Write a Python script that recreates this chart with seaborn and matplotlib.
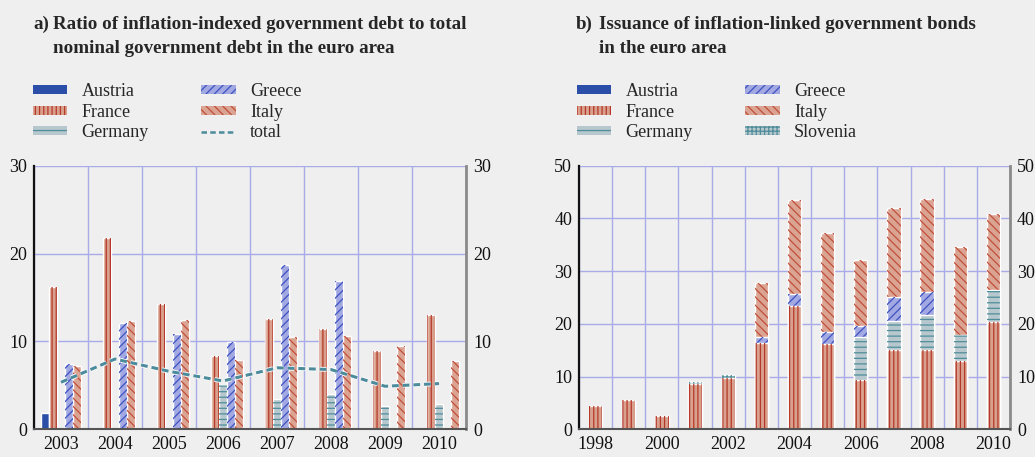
import numpy as np
import pandas as pd
import matplotlib
matplotlib.use("Agg")
import matplotlib.pyplot as plt
import matplotlib.patheffects as pe
import seaborn as sns
from matplotlib.patches import Patch
from matplotlib.lines import Line2D

# ---------------- data ----------------
countries_a = ["Austria", "France", "Germany", "Greece", "Italy"]
years_a = ["2003", "2004", "2005", "2006", "2007", "2008", "2009", "2010"]
austria_a = [1.8, 0, 0, 0, 0, 0, 0, 0]
france_a = [16.2, 21.8, 14.3, 8.35, 12.5, 11.4, 8.9, 13.0]
germany_a = [0, 0, 0, 5.0, 3.5, 4.05, 2.65, 2.9]
greece_a = [7.4, 12.1, 10.9, 9.9, 18.7, 16.9, 0, 0]
italy_a = [7.25, 12.35, 12.4, 7.9, 10.5, 10.65, 9.5, 7.8]
total_a = [5.35, 8.0, 6.6, 5.5, 7.0, 6.8, 4.9, 5.2]

years_b = ["1998", "1999", "2000", "2001", "2002", "2003", "2004",
           "2005", "2006", "2007", "2008", "2009", "2010"]
france_b = [4.4, 5.6, 2.5, 8.65, 9.8, 16.4, 23.4, 16.25, 9.4, 15.0, 15.0, 13.0, 20.4]
germany_b = [0, 0, 0, 0, 0, 0, 0, 0, 8.05, 5.5, 6.6, 4.8, 6.1]
greece_b = [0, 0, 0, 0, 0, 1.2, 2.2, 2.15, 2.2, 4.65, 4.4, 0, 0]
italy_b = [0, 0, 0, 0, 0, 10.2, 17.9, 18.8, 12.55, 16.75, 17.7, 16.8, 14.3]
slovenia_b = [0, 0, 0, 0.35, 0.45, 0, 0, 0, 0, 0, 0, 0, 0]

title_a = ["Ratio of inflation-indexed government debt to total",
           "nominal government debt in the euro area"]
title_b = ["Issuance of inflation-linked government bonds",
           "in the euro area"]

# ---------------- style ----------------
BG = "#efefef"
GRID = "#a9abe8"
TEAL = "#4b8b9b"
STY = {
    "Austria":  dict(fc="#2b4fa8", hc="#2b4fa8", hatch=None),
    "France":   dict(fc="#d9a18d", hc="#b5392a", hatch="||||"),
    "Germany":  dict(fc="#b6c8cd", hc="#4f8d9a", hatch="---"),
    "Greece":   dict(fc="#a1a8e2", hc="#3f52c0", hatch="////"),
    "Italy":    dict(fc="#dba492", hc="#c04f3c", hatch="\\\\\\\\"),
    "Slovenia": dict(fc="#b6c8cd", hc="#4f8d9a", hatch="++++"),
}

sns.set_theme(style="white")
plt.rcParams.update({
    "font.family": ["Liberation Serif", "DejaVu Serif"],
    "figure.facecolor": BG, "axes.facecolor": BG, "savefig.facecolor": BG,
    "hatch.linewidth": 0.9,
    "axes.edgecolor": "#555555",
})

FS = 13
fig = plt.figure(figsize=(10.35, 4.57), dpi=100)
W, H = 1035, 457
axA = fig.add_axes([34 / W, 1 - 429.3 / H, 432 / W, 263.6 / H])
axB = fig.add_axes([579 / W, 1 - 429.3 / H, 431 / W, 263.6 / H])


def to_hatch(patches, hc, hatch):
    for p in patches:
        p.set_facecolor("none")
        p.set_edgecolor(hc)
        p.set_linewidth(0)
        p.set_hatch(hatch)


# ---------------- panel a ----------------
vals_a = {"Austria": austria_a, "France": france_a, "Germany": germany_a,
          "Greece": greece_a, "Italy": italy_a}
df_a = pd.DataFrame({
    "year": years_a * len(countries_a),
    "country": [c for c in countries_a for _ in years_a],
    "value": [v for c in countries_a for v in vals_a[c]],
})
pal_a = {c: STY[c]["fc"] for c in countries_a}
common = dict(data=df_a, x="year", y="value", hue="country",
              hue_order=countries_a, order=years_a, width=0.75, gap=0.06,
              legend=False, ax=axA, errorbar=None, saturation=1)
sns.barplot(palette=pal_a, edgecolor="white", linewidth=1, **common)
n0 = len(axA.patches)
sns.barplot(palette=pal_a, **common)
new = axA.patches[n0:]
n = len(years_a)
for i, c in enumerate(countries_a):
    if STY[c]["hatch"]:
        to_hatch(new[i * n:(i + 1) * n], STY[c]["hc"], STY[c]["hatch"])
    else:
        for p in new[i * n:(i + 1) * n]:
            p.set_visible(False)

sns.lineplot(x=years_a, y=total_a, ax=axA, color=TEAL, lw=2.2,
             linestyle=(0, (2.2, 1.3)),
             path_effects=[pe.Stroke(linewidth=3.4, foreground="white"), pe.Normal()])

# ---------------- panel b ----------------
order_b = ["France", "Germany", "Greece", "Italy", "Slovenia"]
vals_b = {"France": france_b, "Germany": germany_b, "Greece": greece_b,
          "Italy": italy_b, "Slovenia": slovenia_b}
cum = np.cumsum([vals_b[c] for c in order_b], axis=0)
# draw tallest cumulative first, so lower segments overlay it
for idx in range(len(order_b) - 1, -1, -1):
    c = order_b[idx]
    top = cum[idx]
    mask_nonzero = np.array(vals_b[c]) > 0
    heights = np.where(mask_nonzero, top, 0.0)
    d = pd.DataFrame({"year": years_b, "value": heights})
    sns.barplot(data=d, x="year", y="value", order=years_b, color=STY[c]["fc"],
                saturation=1, width=0.4, edgecolor="white", linewidth=1,
                ax=axB, errorbar=None)
    k = len(axB.patches)
    sns.barplot(data=d, x="year", y="value", order=years_b, color=STY[c]["fc"],
                saturation=1, width=0.4, ax=axB, errorbar=None)
    to_hatch(axB.patches[k:], STY[c]["hc"], STY[c]["hatch"])

# ---------------- axes styling ----------------
for ax, nyrs, ymax, labels in [
        (axA, len(years_a), 30, years_a),
        (axB, len(years_b), 50, [y if int(y) % 2 == 0 else "" for y in years_b])]:
    ax.set_xlim(-0.5, nyrs - 0.5)
    ax.set_ylim(0, ymax)
    ax.set_xticks(np.arange(nyrs))
    ax.set_xticklabels(labels)
    ax.set_xticks(np.arange(nyrs + 1) - 0.5, minor=True)
    ax.set_yticks(np.arange(0, ymax + 1, 10))
    ax.set_xlabel("")
    ax.set_ylabel("")
    ax.grid(False)
    ax.grid(which="minor", axis="x", color=GRID, lw=1)
    ax.grid(which="major", axis="y", color=GRID, lw=1)
    ax.set_axisbelow(True)
    ax.tick_params(axis="x", which="major", length=0, pad=5, labelsize=FS,
                   colors="#111111")
    ax.tick_params(axis="x", which="minor", length=5, width=1.2,
                   direction="out", color="#222222")
    ax.tick_params(axis="y", length=0, pad=5, labelsize=FS,
                   left=True, right=True, labelleft=True, labelright=True,
                   colors="#111111")
    for s in ["top", "bottom", "left", "right"]:
        ax.spines[s].set_visible(True)
    ax.spines["top"].set_visible(False)
    ax.spines["left"].set_color("#111111")
    ax.spines["left"].set_linewidth(1.6)
    ax.spines["right"].set_color("#8a8a8a")
    ax.spines["right"].set_linewidth(2)
    ax.spines["bottom"].set_color("#555555")
    ax.spines["bottom"].set_linewidth(1.5)

# ---------------- titles ----------------
TS = 13.7
for x0, x1, lines, lab in [(33, 53, title_a, "a)"), (576, 599, title_b, "b)")]:
    fig.text(x0 / W, 1 - 29 / H, lab, fontsize=TS, fontweight="bold",
             va="baseline", ha="left")
    for j, ln in enumerate(lines):
        fig.text(x1 / W, 1 - (29 + 24 * j) / H, ln, fontsize=TS,
                 fontweight="bold", va="baseline", ha="left")


# ---------------- legends ----------------
def patch_handle(c):
    s = STY[c]
    return Patch(facecolor=s["fc"], edgecolor=s["hc"], hatch=s["hatch"], linewidth=0)


hA = [patch_handle(c) for c in countries_a] + [
    Line2D([], [], color=TEAL, lw=1.8, linestyle=(0, (2.2, 1.3)))]
lA = countries_a + ["total"]
hB = [patch_handle(c) for c in ["Austria", "France", "Germany", "Greece", "Italy", "Slovenia"]]
lB = ["Austria", "France", "Germany", "Greece", "Italy", "Slovenia"]

leg_kw = dict(ncol=2, loc="upper left", frameon=False, fontsize=FS,
              handlelength=1.9, handleheight=0.38, handletextpad=0.8,
              columnspacing=2.9, labelspacing=0.2, borderpad=0, borderaxespad=0)
fig.legend(hA, lA, bbox_to_anchor=(33 / W, 1 - 83 / H), **leg_kw)
fig.legend(hB, lB, bbox_to_anchor=(577 / W, 1 - 83 / H), **leg_kw)

fig.savefig("out.png", dpi=100)
